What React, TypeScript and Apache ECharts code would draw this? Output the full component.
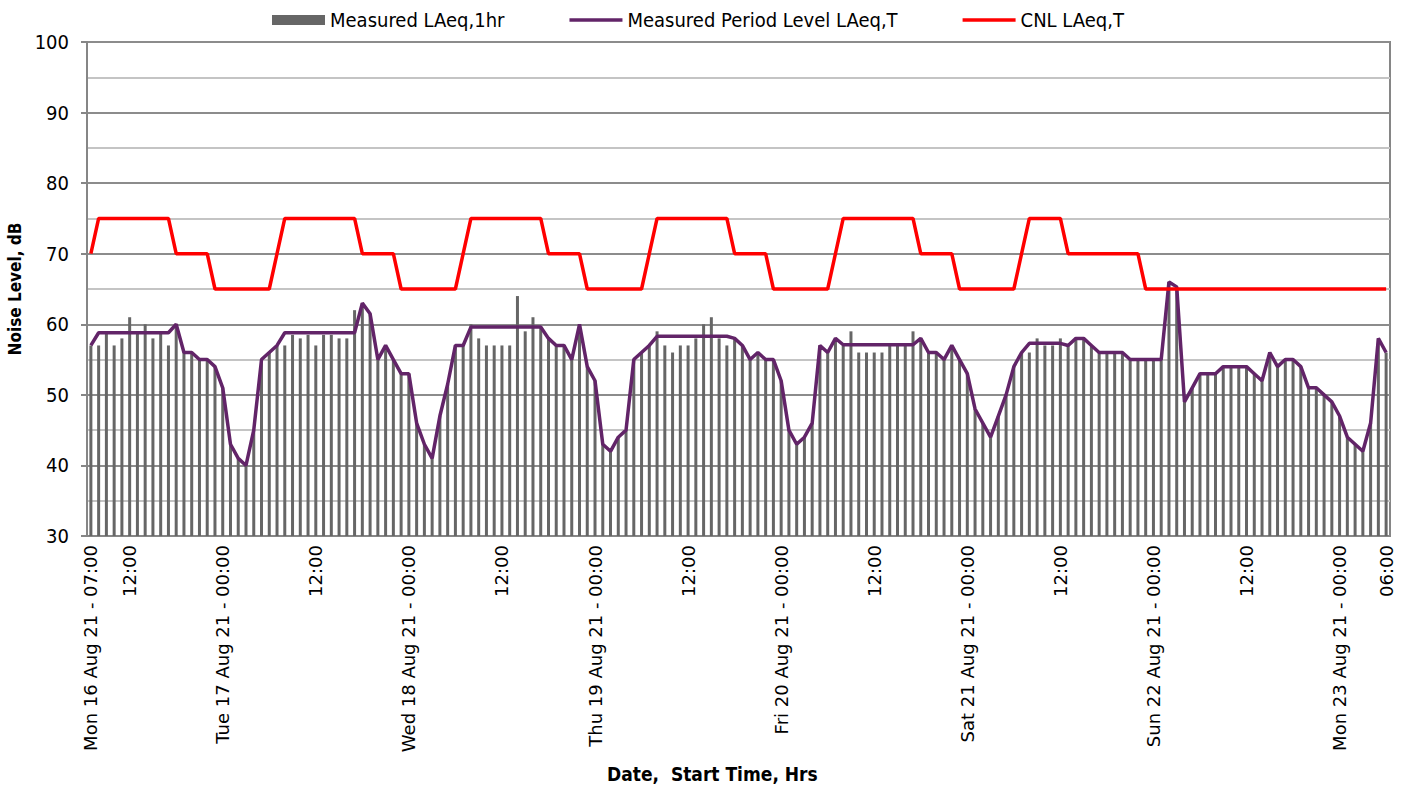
import React, { useEffect, useRef } from "react";
import * as echarts from "echarts";

// Hourly start times: Mon 16 Aug 21 07:00 → Mon 23 Aug 21 06:00 (168 hours)
const dayNames = ["Mon 16 Aug 21", "Tue 17 Aug 21", "Wed 18 Aug 21", "Thu 19 Aug 21", "Fri 20 Aug 21", "Sat 21 Aug 21", "Sun 22 Aug 21", "Mon 23 Aug 21"];
const categories: string[] = [];
for (let h = 0; h < 168; h++) {
  const abs = h + 7;
  const d = Math.floor(abs / 24);
  const hh = abs % 24;
  categories.push(`${dayNames[d]} ${String(hh).padStart(2, "0")}:00`);
}

const tickIndices = [0, 5, 17, 29, 41, 53, 65, 77, 89, 101, 113, 125, 137, 149, 161, 167];
const tickLabels = [
  "Mon 16 Aug 21 - 07:00", "12:00",
  "Tue 17 Aug 21 - 00:00", "12:00",
  "Wed 18 Aug 21 - 00:00", "12:00",
  "Thu 19 Aug 21 - 00:00", "12:00",
  "Fri 20 Aug 21 - 00:00", "12:00",
  "Sat 21 Aug 21 - 00:00", "12:00",
  "Sun 22 Aug 21 - 00:00", "12:00",
  "Mon 23 Aug 21 - 00:00", "06:00",
];

const measuredHourly = [
  // Mon 16 07:00-23:00
  57, 57, 59, 57, 58, 61, 59, 60, 58, 59, 57, 60, 56, 56, 55, 55, 54,
  // Tue 17
  51, 43, 41, 40, 45, 55, 56, 57, 57, 58.5, 58, 58.5, 57, 58.5, 58.5, 58, 58, 62, 63, 61.5, 55, 57, 55, 53,
  // Wed 18
  53, 46, 43, 41, 47, 51.5, 57, 57, 60, 58, 57, 57, 57, 57, 64, 59, 61, 59.6, 58, 57, 57, 55, 60, 54,
  // Thu 19
  52, 43, 42, 44, 45, 55, 56, 57, 59, 57, 56, 57, 57, 58, 60, 61, 58, 57, 58, 57, 55, 56, 55, 55,
  // Fri 20
  52, 45, 43, 44, 46, 57, 56, 58, 57, 59, 56, 56, 56, 56, 57, 57, 57, 59, 58, 56, 56, 55, 57, 55,
  // Sat 21
  53, 48, 46, 44, 47, 50, 54, 56, 56, 58, 57, 57, 58, 57, 58, 58, 57, 56, 56, 56, 56, 55, 55, 55,
  // Sun 22
  55, 55, 66, 65.3, 49, 51, 53, 53, 53, 54, 54, 54, 54, 53, 52, 56, 54, 55, 55, 54, 51, 51, 50, 49,
  // Mon 23 00:00-06:00
  47, 44, 43, 42, 46, 58, 56,
];

const measuredPeriod = [
  // Mon 16
  57, 58.8, 58.8, 58.8, 58.8, 58.8, 58.8, 58.8, 58.8, 58.8, 58.8, 60, 56, 56, 55, 55, 54,
  // Tue 17
  51, 43, 41, 40, 45, 55, 56, 57, 58.8, 58.8, 58.8, 58.8, 58.8, 58.8, 58.8, 58.8, 58.8, 58.8, 63, 61.5, 55, 57, 55, 53,
  // Wed 18
  53, 46, 43, 41, 47, 51.5, 57, 57, 59.6, 59.6, 59.6, 59.6, 59.6, 59.6, 59.6, 59.6, 59.6, 59.6, 58, 57, 57, 55, 60, 54,
  // Thu 19
  52, 43, 42, 44, 45, 55, 56, 57, 58.3, 58.3, 58.3, 58.3, 58.3, 58.3, 58.3, 58.3, 58.3, 58.3, 58, 57, 55, 56, 55, 55,
  // Fri 20
  52, 45, 43, 44, 46, 57, 56, 58, 57.1, 57.1, 57.1, 57.1, 57.1, 57.1, 57.1, 57.1, 57.1, 57.1, 58, 56, 56, 55, 57, 55,
  // Sat 21
  53, 48, 46, 44, 47, 50, 54, 56, 57.3, 57.3, 57.3, 57.3, 57.3, 57, 58, 58, 57, 56, 56, 56, 56, 55, 55, 55,
  // Sun 22
  55, 55, 66, 65.3, 49, 51, 53, 53, 53, 54, 54, 54, 54, 53, 52, 56, 54, 55, 55, 54, 51, 51, 50, 49,
  // Mon 23
  47, 44, 43, 42, 46, 58, 56,
];

const cnl = [
  // Mon 16
  70, 75, 75, 75, 75, 75, 75, 75, 75, 75, 75, 70, 70, 70, 70, 70, 65,
  // Tue 17
  65, 65, 65, 65, 65, 65, 65, 70, 75, 75, 75, 75, 75, 75, 75, 75, 75, 75, 70, 70, 70, 70, 70, 65,
  // Wed 18
  65, 65, 65, 65, 65, 65, 65, 70, 75, 75, 75, 75, 75, 75, 75, 75, 75, 75, 70, 70, 70, 70, 70, 65,
  // Thu 19
  65, 65, 65, 65, 65, 65, 65, 70, 75, 75, 75, 75, 75, 75, 75, 75, 75, 75, 70, 70, 70, 70, 70, 65,
  // Fri 20
  65, 65, 65, 65, 65, 65, 65, 70, 75, 75, 75, 75, 75, 75, 75, 75, 75, 75, 70, 70, 70, 70, 70, 65,
  // Sat 21
  65, 65, 65, 65, 65, 65, 65, 70, 75, 75, 75, 75, 75, 70, 70, 70, 70, 70, 70, 70, 70, 70, 70, 65,
  // Sun 22
  65, 65, 65, 65, 65, 65, 65, 65, 65, 65, 65, 65, 65, 65, 65, 65, 65, 65, 65, 65, 65, 65, 65, 65,
  // Mon 23
  65, 65, 65, 65, 65, 65, 65,
];

const COND = "'DejaVu Sans Condensed', 'DejaVu Sans', sans-serif";
const WIDE = "'DejaVu Sans', Verdana, sans-serif";
const PURPLE = "#622468";
const RED = "#ff0000";
const LINE_ICON = "path://M0,0H53V3.5H0Z";

export default function App() {
  const ref = useRef<HTMLDivElement>(null);
  useEffect(() => {
    const chart = echarts.init(ref.current!, null, { renderer: "svg" });
    chart.setOption({
      animation: false,
      backgroundColor: "#ffffff",
      grid: {
        left: 87,
        right: 21,
        top: 42,
        bottom: 252,
        show: true,
        borderColor: "#868686",
        borderWidth: 2,
        containLabel: false,
        outerBoundsMode: "none",
      },
      legend: {
        top: 5,
        left: 267,
        itemWidth: 53,
        itemHeight: 10,
        itemGap: 65,
        textStyle: { fontFamily: COND, fontSize: 20, color: "#000" },
        data: [
          { name: "Measured LAeq,1hr", icon: "rect", itemStyle: { color: "#666666" } },
          { name: "Measured Period Level LAeq,T", icon: LINE_ICON, itemStyle: { color: PURPLE, borderWidth: 0 } },
          { name: "CNL LAeq,T", icon: LINE_ICON, itemStyle: { color: RED, borderWidth: 0 } },
        ],
      },
      xAxis: {
        type: "category",
        data: categories,
        boundaryGap: true,
        axisLine: { lineStyle: { color: "#868686", width: 2 } },
        axisTick: { show: false },
        splitLine: { show: false },
        axisLabel: {
          interval: (i: number) => tickIndices.includes(i),
          formatter: (_v: string, i: number) => {
            const k = tickIndices.indexOf(i);
            return k >= 0 ? tickLabels[k] : "";
          },
          rotate: 90,
          margin: 9,
          fontFamily: WIDE,
          fontSize: 18,
          color: "#000",
        },
      },
      yAxis: {
        type: "value",
        min: 30,
        max: 100,
        interval: 10,
        name: "Noise Level, dB",
        nameLocation: "middle",
        nameGap: 62,
        nameTextStyle: { fontFamily: COND, fontSize: 17, fontWeight: "bold", color: "#000" },
        axisLine: { show: true, lineStyle: { color: "#868686", width: 2 } },
        axisTick: { show: true, length: 6, lineStyle: { color: "#868686", width: 2 } },
        axisLabel: { fontFamily: COND, fontSize: 20, color: "#000", margin: 18 },
        splitLine: { show: true, lineStyle: { color: "#8c8c8c", width: 2 } },
        minorTick: { show: false, splitNumber: 2 },
        minorSplitLine: { show: true, lineStyle: { color: "#c4c4c4", width: 2 } },
      },
      graphic: [
        {
          type: "text",
          left: 607,
          top: 764,
          style: {
            text: "Date,\u00a0 Start Time, Hrs",
            fontFamily: COND,
            fontSize: 19,
            fontWeight: "bold",
            fill: "#000",
          },
        },
      ],
      series: [
        {
          name: "Measured LAeq,1hr",
          type: "bar",
          data: measuredHourly,
          barWidth: 3,
          itemStyle: { color: "#666666" },
          z: 2,
        },
        {
          name: "Measured Period Level LAeq,T",
          type: "line",
          data: measuredPeriod,
          symbol: "none",
          lineStyle: { color: PURPLE, width: 3.5 },
          itemStyle: { color: PURPLE },
          z: 3,
        },
        {
          name: "CNL LAeq,T",
          type: "line",
          data: cnl,
          symbol: "none",
          lineStyle: { color: RED, width: 3.5 },
          itemStyle: { color: RED },
          z: 4,
        },
      ],
    });
    return () => chart.dispose();
  }, []);
  return (
    <div
      ref={ref}
      style={{ position: "fixed", left: 0, top: 0, width: 1411, height: 788, background: "#fff" }}
    />
  );
}
